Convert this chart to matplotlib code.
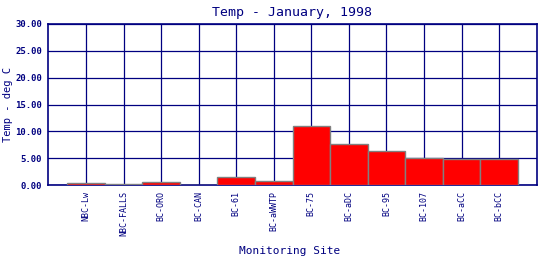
import numpy as np
import matplotlib.pyplot as plt

sites = ['NBC-Lw', 'NBC-FALLS', 'BC-ORO', 'BC-CAN', 'BC-61', 'BC-aWWTP',
         'BC-75', 'BC-aDC', 'BC-95', 'BC-107', 'BC-aCC', 'BC-bCC']
temps = [0.35, 0.2, 0.55, 0.0, 1.5, 0.75, 11.0, 7.7, 6.3, 5.0, 4.8, 4.8]
yticks = [0, 5, 10, 15, 20, 25, 30]

navy = '#000080'
plt.rcParams['font.family'] = 'DejaVu Sans Mono'

fig = plt.figure(figsize=(5.4, 2.6), dpi=100)
ax = fig.add_axes([0.0883, 0.288, 0.9056, 0.620])
x = np.arange(len(sites))
ax.bar(x, temps, width=1.0, color='#ff0000', edgecolor='#808080', linewidth=1.0, zorder=3)

ax.set_xlim(-1.02, 12.0)
ax.set_ylim(0, 30)
ax.set_xticks(x)
ax.set_xticklabels(sites, rotation=90, fontsize=6, color=navy)
ax.set_yticks(yticks)
ax.set_yticklabels(['%.2f' % v for v in yticks], fontsize=6.5, color=navy, fontweight='bold')
ax.tick_params(length=0, pad=4)
ax.grid(True, color=navy, linewidth=0.9, zorder=0)
ax.set_axisbelow(True)
for s in ax.spines.values():
    s.set_color(navy)
    s.set_linewidth(1.2)

ax.set_title('Temp - January, 1998', fontsize=9.5, color=navy, pad=6)
fig.text(0.014, 0.60, 'Temp - deg C', fontsize=7.5, color=navy, rotation=90,
         ha='center', va='center')
fig.text(0.537, 0.022, 'Monitoring Site', fontsize=8, color=navy, ha='center')

fig.savefig('out.png', dpi=100, facecolor='white')
